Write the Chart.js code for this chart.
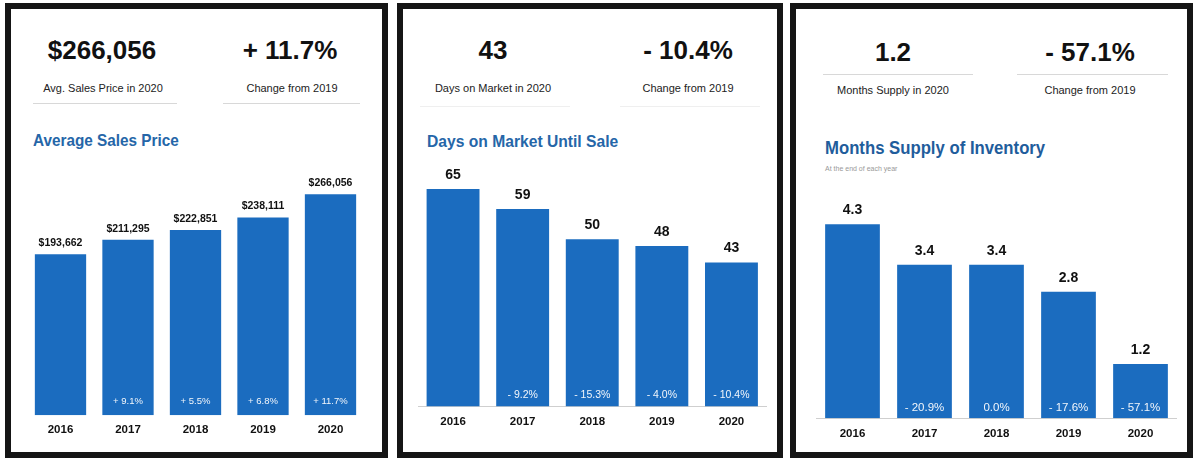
<!DOCTYPE html>
<html>
<head>
<meta charset="utf-8">
<script src="https://cdn.jsdelivr.net/npm/chart.js@4"></script>
<style>
  body { margin: 0; width: 1196px; height: 458px; background: #fff; position: relative; overflow: hidden;
         font-family: "Liberation Sans", Arial, sans-serif; color: #111; }
  .panel { position: absolute; top: 3px; height: 455px; border: 6px solid #151515; box-sizing: border-box; }
  .abs { position: absolute; white-space: nowrap; }
  .big { font-size: 26px; font-weight: bold; text-align: center; width: 200px; line-height: 30px; }
  .cap { font-size: 11px; text-align: center; width: 200px; line-height: 14px; color: #222; }
  .rule { position: absolute; height: 1px; background: #d8d8d8; }
  .title { font-size: 17px; font-weight: bold; color: #2566a8; line-height: 20px;
           transform: scaleX(0.9); transform-origin: left center; }
  .sub { font-size: 7px; color: #999; line-height: 9px; }
  canvas { position: absolute; }
</style>
</head>
<body>
<div class="panel" style="left:5px; width:383px;"></div>
<div class="panel" style="left:397px; width:386px;"></div>
<div class="panel" style="left:790px; width:403px;"></div>

<!-- パネル1 -->
<div class="abs big" style="left:2px; top:35px;">$266,056</div>
<div class="abs big" style="left:190px; top:35px;">+ 11.7%</div>
<div class="abs cap" style="left:3px; top:81px;">Avg. Sales Price in 2020</div>
<div class="abs cap" style="left:192px; top:81px;">Change from 2019</div>
<div class="rule" style="left:33px; width:144px; top:103px;"></div>
<div class="rule" style="left:223px; width:137px; top:103px;"></div>
<div class="abs title" style="left:33px; top:131px;">Average Sales Price</div>
<canvas id="c1" width="360" height="306" style="left:20px; top:140px;"></canvas>

<!-- パネル2 -->
<div class="abs big" style="left:393px; top:35px;">43</div>
<div class="abs big" style="left:588px; top:35px;">- 10.4%</div>
<div class="abs cap" style="left:393px; top:81px;">Days on Market in 2020</div>
<div class="abs cap" style="left:588px; top:81px;">Change from 2019</div>
<div class="rule" style="left:420px; width:150px; top:106px; background:#efefef;"></div>
<div class="rule" style="left:620px; width:140px; top:106px; background:#efefef;"></div>
<div class="abs title" style="left:427px; top:132px; transform:scaleX(0.92);">Days on Market Until Sale</div>
<canvas id="c2" width="370" height="301" style="left:405px; top:140px;"></canvas>

<!-- パネル3 -->
<div class="abs big" style="left:793px; top:37px;">1.2</div>
<div class="abs big" style="left:990px; top:37px;">- 57.1%</div>
<div class="rule" style="left:823px; width:150px; top:74px;"></div>
<div class="rule" style="left:1017px; width:151px; top:74px;"></div>
<div class="abs cap" style="left:793px; top:83px;">Months Supply in 2020</div>
<div class="abs cap" style="left:990px; top:83px;">Change from 2019</div>
<div class="abs title" style="left:825px; top:138px; font-size:19px; color:#1f5d9c; transform:scaleX(0.88);">Months Supply of Inventory</div>
<div class="abs sub" style="left:825px; top:164px;">At the end of each year</div>
<canvas id="c3" width="385" height="300" style="left:800px; top:150px;"></canvas>

<script>
// データ
const years = ['2016', '2017', '2018', '2019', '2020'];
const avgPrice = [193662, 211295, 222851, 238111, 266056];
const priceChange = ['', '+ 9.1%', '+ 5.5%', '+ 6.8%', '+ 11.7%'];
const daysOnMarket = [65, 59, 50, 48, 43];
const daysChange = ['', '- 9.2%', '- 15.3%', '- 4.0%', '- 10.4%'];
const monthsSupply = [4.3, 3.4, 3.4, 2.8, 1.2];
const supplyChange = ['', '- 20.9%', '0.0%', '- 17.6%', '- 57.1%'];

const barColor = '#1b6cbf';
const fontFamily = '"Liberation Sans", Arial, sans-serif';

// 棒の上と中に文字を描くプラグイン
const barText = {
    id: 'barText',
    afterDatasetsDraw(chart, args, opts) {
        const ctx = chart.ctx;
        const meta = chart.getDatasetMeta(0);
        const values = chart.data.datasets[0].data;
        ctx.save();
        ctx.textAlign = 'center';
        ctx.textBaseline = 'middle';
        meta.data.forEach((bar, i) => {
            ctx.fillStyle = '#111';
            ctx.font = opts.topFont;
            ctx.fillText(opts.format(values[i]), bar.x, bar.y - opts.topOffset);
            if (opts.inside[i]) {
                ctx.fillStyle = '#f2f6fb';
                ctx.font = opts.insideFont;
                ctx.fillText(opts.inside[i], bar.x, bar.base - opts.insideOffset);
            }
        });
        ctx.restore();
    }
};

function makeChart(id, values, max, padding, tickPad, showBorder, textOpts) {
    return new Chart(document.getElementById(id), {
        type: 'bar',
        data: {
            labels: years,
            datasets: [{
                data: values,
                backgroundColor: barColor,
                barPercentage: 0.76,
                categoryPercentage: 1
            }]
        },
        options: {
            responsive: false,
            animation: false,
            devicePixelRatio: 1,
            layout: { padding: padding },
            plugins: {
                legend: { display: false },
                tooltip: { enabled: false },
                barText: textOpts
            },
            scales: {
                y: { display: false, min: 0, max: max },
                x: {
                    grid: { display: false, drawTicks: false },
                    border: { display: showBorder, color: '#cfcfcf', width: 1 },
                    ticks: {
                        padding: tickPad,
                        color: '#111',
                        font: { family: fontFamily, size: 11.5, weight: 'bold' }
                    }
                }
            }
        },
        plugins: [barText]
    });
}

// 平均販売価格
makeChart('c1', avgPrice, 300000, { left: 6.75, right: 15.75, top: 26, bottom: 1 }, 8, false, {
    format: v => '$' + v.toLocaleString('en-US'),
    topFont: 'bold 10.5px ' + fontFamily,
    topOffset: 11,
    inside: priceChange,
    insideFont: '9.5px ' + fontFamily,
    insideOffset: 14
});

// 販売までの日数
makeChart('c2', daysOnMarket, 75, { left: 13.25, right: 8.75, top: 15.6, bottom: 2.8 }, 9, true, {
    format: v => String(v),
    topFont: 'bold 14px ' + fontFamily,
    topOffset: 14,
    inside: daysChange,
    insideFont: '10.5px ' + fontFamily,
    insideOffset: 11
});

// 在庫月数
makeChart('c3', monthsSupply, 5, { left: 16.5, right: 8.5, top: 42.6, bottom: 0 }, 9, true, {
    format: v => v.toFixed(1),
    topFont: 'bold 14px ' + fontFamily,
    topOffset: 14,
    inside: supplyChange,
    insideFont: '11.5px ' + fontFamily,
    insideOffset: 10
});
</script>
</body>
</html>
